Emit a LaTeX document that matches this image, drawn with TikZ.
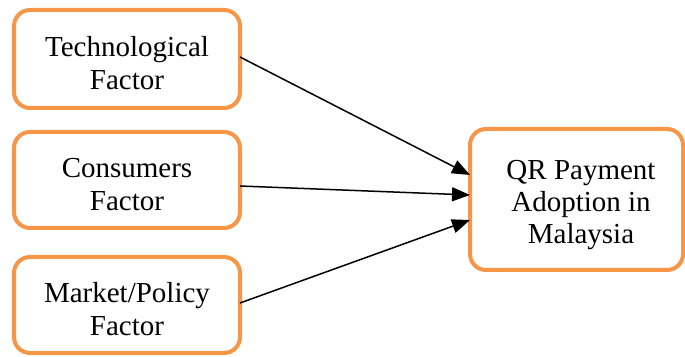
\documentclass[tikz,border=0pt]{standalone}
\usepackage{fontspec}
\setmainfont{Liberation Serif}
\usetikzlibrary{arrows.meta}
\definecolor{boxorange}{HTML}{F79646}
\begin{document}
\begin{tikzpicture}[x=1pt,y=1pt,
  factorbox/.style={draw=boxorange, line width=4pt, rounded corners=16pt, fill=white,
    minimum width=226pt, outer sep=0pt, inner sep=0pt},
  boxlabel/.style={align=center, inner sep=0pt, font=\fontsize{29}{33}\selectfont},
  conn/.style={line width=1.5pt, -{Triangle[length=18pt,width=14pt]}}]
\useasboundingbox (0,0) rectangle (685,356);
\node[factorbox, minimum height=98pt] (b1) at (127,297) {};
\node[boxlabel] (t1) at (127,293) {Technological\\Factor};
\node[factorbox, minimum height=96pt] (b2) at (127,176) {};
\node[boxlabel] (t2) at (127,171) {Consumers\\Factor};
\node[factorbox, minimum height=96pt] (b3) at (127,51) {};
\node[boxlabel] (t3) at (127,47) {Market/Policy\\Factor};
\node[factorbox, minimum width=213pt, minimum height=141pt] (r) at (576.5,156.5) {};
\node[boxlabel, font=\fontsize{29}{32}\selectfont] (rt) at (581,151) {QR Payment\\Adoption in\\Malaysia};
\draw[conn] ([yshift=2pt]b1.east) -- ([yshift=24.5pt]r.west);
\draw[conn] ([yshift=-6pt]b2.east) -- ([yshift=4.5pt]r.west);
\draw[conn] ([yshift=2pt]b3.east) -- ([yshift=-20.5pt]r.west);
\end{tikzpicture}
\end{document}
